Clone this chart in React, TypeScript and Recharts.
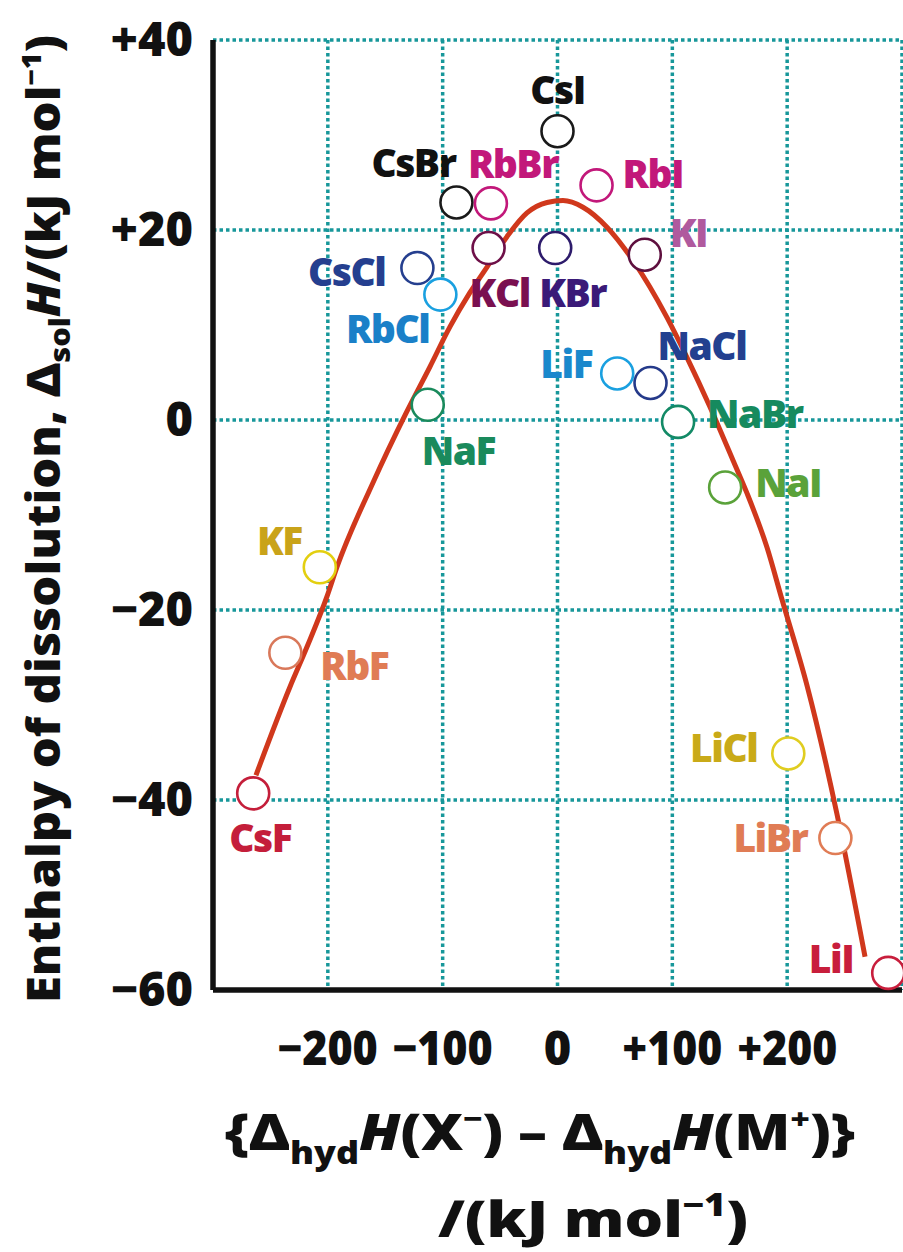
import React from 'react';
import { ComposedChart, XAxis, YAxis, CartesianGrid, Line, Scatter } from 'recharts';

// ---------- data ----------
const compounds = [
  'CsI', 'CsBr', 'RbBr', 'RbI', 'KCl', 'KBr', 'KI', 'CsCl', 'RbCl', 'LiF',
  'NaCl', 'NaF', 'NaBr', 'NaI', 'KF', 'RbF', 'CsF', 'LiCl', 'LiBr', 'LiI',
];
// {ΔhydH(X−) − ΔhydH(M+)} / (kJ mol−1)
const hydrationDifference = [
  0, -88, -58, 34, -60, -2, 76, -122, -102, 52,
  81, -113, 105, 146, -207, -237, -265, 201, 242, 288,
];
// ΔsolH / (kJ mol−1)
const dissolutionEnthalpy = [
  30.4, 22.9, 22.8, 24.7, 18.1, 18.1, 17.4, 16.0, 13.2, 4.9,
  3.9, 1.6, -0.2, -7.1, -15.5, -24.5, -39.3, -35.1, -44.0, -58.2,
];

// fitted trend curve
const curveX = [
  -262.6, -233, -218.2, -200.8, -192.1, -160.7, -132, -111.1, -93.7, -76.3,
  -61.4, -44, -26.6, -9.1, 4.8, 22.2, 43.1, 65.7, 95.3, 112.7,
  132.7, 152.7, 165, 182.4, 195.5, 217.2, 243.4, 267.8,
];
const curveY = [
  -37.4, -28.1, -23.9, -18.6, -15.5, -6.6, 0.7, 5.6, 9.8, 13.4,
  16.1, 19.3, 21.8, 22.9, 23.1, 22.4, 20.3, 16.8, 10.8, 6.6,
  1.4, -4.2, -7.7, -13.4, -18.9, -27.9, -41.5, -56.5,
];

const xTicks = [-300, -200, -100, 0, 100, 200, 300];
const xTickLabels = ['', '−200', '−100', '0', '+100', '+200', ''];
const yTicks = [-60, -40, -20, 0, 20, 40];
const yTickLabels = ['−60', '−40', '−20', '0', '+20', '+40'];

const points = compounds.map((name, i) => ({
  name,
  x: hydrationDifference[i],
  y: dissolutionEnthalpy[i],
}));
const curve = curveX.map((x, i) => ({ x, y: curveY[i] }));

// ---------- styling ----------
const FONT = "'Open Sans', 'DejaVu Sans', sans-serif";
const GRID = '#17979a';
const INK = '#111111';

type Mark = { stroke: string; fill: string; dx: number; dy: number; anchor: 'start' | 'middle' | 'end' };
const markStyle: Record<string, Mark> = {
  CsI: { stroke: '#1a1a1a', fill: '#111111', dx: 0, dy: -27, anchor: 'middle' },
  CsBr: { stroke: '#1a1a1a', fill: '#111111', dx: -1, dy: -25, anchor: 'end' },
  RbBr: { stroke: '#c2187a', fill: '#c2187a', dx: -23, dy: -25, anchor: 'start' },
  RbI: { stroke: '#c2187a', fill: '#c2187a', dx: 26, dy: 3, anchor: 'start' },
  KCl: { stroke: '#6e1048', fill: '#7a1050', dx: -19, dy: 59, anchor: 'start' },
  KBr: { stroke: '#2d1b6b', fill: '#3a1a78', dx: -16, dy: 59, anchor: 'start' },
  KI: { stroke: '#5e0f3e', fill: '#b05a9e', dx: 25, dy: -8, anchor: 'start' },
  CsCl: { stroke: '#253f8f', fill: '#253f8f', dx: -32, dy: 18, anchor: 'end' },
  RbCl: { stroke: '#1aa0e0', fill: '#1a80c8', dx: -11, dy: 48, anchor: 'end' },
  LiF: { stroke: '#1aa0e0', fill: '#1a88cc', dx: -25, dy: 5, anchor: 'end' },
  NaCl: { stroke: '#253a8a', fill: '#23408f', dx: 7, dy: -23, anchor: 'start' },
  NaF: { stroke: '#1a8a5c', fill: '#1a8a5c', dx: -6, dy: 60, anchor: 'start' },
  NaBr: { stroke: '#138a66', fill: '#168a5e', dx: 29, dy: 6, anchor: 'start' },
  NaI: { stroke: '#5aa23a', fill: '#5aa23a', dx: 30, dy: 10, anchor: 'start' },
  KF: { stroke: '#e3cf10', fill: '#c9a319', dx: -18, dy: -12, anchor: 'end' },
  RbF: { stroke: '#d9785a', fill: '#e07c55', dx: 35, dy: 27, anchor: 'start' },
  CsF: { stroke: '#c41e3a', fill: '#c41e3a', dx: 7, dy: 59, anchor: 'middle' },
  LiCl: { stroke: '#e0cd20', fill: '#c9aa18', dx: -31, dy: 9, anchor: 'end' },
  LiBr: { stroke: '#e07c55', fill: '#e07c55', dx: -28, dy: 14, anchor: 'end' },
  LiI: { stroke: '#c81e3c', fill: '#c81e3c', dx: -35, dy: 0, anchor: 'end' },
};

const renderLabel = (props: any) => {
  const { cx, cy, payload } = props;
  const s = markStyle[payload.name];
  return (
    <text
      x={cx + s.dx}
      y={cy + s.dy}
      textAnchor={s.anchor}
      fill={s.fill}
      fontFamily={FONT}
      fontWeight={800}
      fontSize={39}
      letterSpacing={-1.5}
    >
      {payload.name}
    </text>
  );
};

const renderCircle = (props: any) => {
  const { cx, cy, payload } = props;
  const s = markStyle[payload.name];
  return <circle cx={cx} cy={cy} r={16} fill="#fff" stroke={s.stroke} strokeWidth={2.6} />;
};

const XTick = (props: any) => {
  const { x, y, payload } = props;
  const label = xTickLabels[xTicks.indexOf(payload.value)];
  if (!label) return <g />;
  const condensed = label.length > 1 ? { textLength: 25 * label.length, lengthAdjust: 'spacingAndGlyphs' } : {};
  return (
    <text
      x={x}
      y={y + 75}
      textAnchor="middle"
      fill={INK}
      fontFamily={FONT}
      fontWeight={800}
      fontSize={47}
      {...condensed}
    >
      {label}
    </text>
  );
};

const YTick = (props: any) => {
  const { x, y, payload } = props;
  const label = yTickLabels[yTicks.indexOf(payload.value)];
  return (
    <text x={x - 20} y={y + 16} textAnchor="end" fill={INK} fontFamily={FONT} fontWeight={800} fontSize={47}>
      {label}
    </text>
  );
};

const YTitle = () => (
  <text
    transform="translate(60,519) rotate(-90)"
    textAnchor="middle"
    fill={INK}
    fontFamily={FONT}
    fontWeight={800}
    fontSize={46}
    textLength={968}
    lengthAdjust="spacingAndGlyphs"
  >
    Enthalpy of dissolution, Δ
    <tspan fontSize={29} dy={10}>sol</tspan>
    <tspan dy={-10} fontStyle="italic">H</tspan>
    /(kJ mol
    <tspan fontSize={27} dy={-19}>−1</tspan>
    <tspan dy={19}>)</tspan>
  </text>
);

const XTitle = () => (
  <g fill={INK} fontFamily={FONT} fontWeight={800}>
    <text x={540} y={1150} textAnchor="middle" fontSize={50} textLength={632} lengthAdjust="spacingAndGlyphs">
      {'{Δ'}
      <tspan fontSize={31} dy={14}>hyd</tspan>
      <tspan dy={-14} fontStyle="italic">H</tspan>
      (X
      <tspan fontSize={29} dy={-21}>−</tspan>
      <tspan dy={21}>) – Δ</tspan>
      <tspan fontSize={31} dy={14}>hyd</tspan>
      <tspan dy={-14} fontStyle="italic">H</tspan>
      (M
      <tspan fontSize={29} dy={-21}>+</tspan>
      <tspan dy={21}>{')}'}</tspan>
    </text>
    <text x={593} y={1237} textAnchor="middle" fontSize={50} textLength={310} lengthAdjust="spacingAndGlyphs">
      /(kJ mol
      <tspan fontSize={31} dy={-21}>−1</tspan>
      <tspan dy={21}>)</tspan>
    </text>
  </g>
);

export default function App() {
  return (
    <div style={{ position: 'absolute', left: 0, top: 0, background: '#fff' }}>
      <ComposedChart width={903} height={1252} margin={{ top: 40, right: 1, bottom: 0, left: 0 }}>
        <CartesianGrid stroke={GRID} strokeWidth={3.5} strokeDasharray="3.5 3" />
        <XAxis
          type="number"
          dataKey="x"
          domain={[-300, 300]}
          ticks={xTicks}
          tick={<XTick />}
          tickLine={false}
          tickSize={0}
          tickMargin={0}
          height={262}
          axisLine={{ stroke: INK, strokeWidth: 5.5 }}
          label={{ content: () => <XTitle /> }}
        />
        <YAxis
          type="number"
          dataKey="y"
          domain={[-60, 40]}
          ticks={yTicks}
          tick={<YTick />}
          tickLine={false}
          tickSize={0}
          tickMargin={0}
          width={213}
          axisLine={{ stroke: INK, strokeWidth: 5.5 }}
          label={{ content: () => <YTitle /> }}
        />
        <Scatter data={points} dataKey="y" shape={renderLabel} isAnimationActive={false} />
        <Line
          data={curve}
          dataKey="y"
          type="monotone"
          stroke="#d0381c"
          strokeWidth={5}
          dot={false}
          activeDot={false}
          isAnimationActive={false}
        />
        <Scatter data={points} dataKey="y" shape={renderCircle} isAnimationActive={false} />
      </ComposedChart>
    </div>
  );
}
